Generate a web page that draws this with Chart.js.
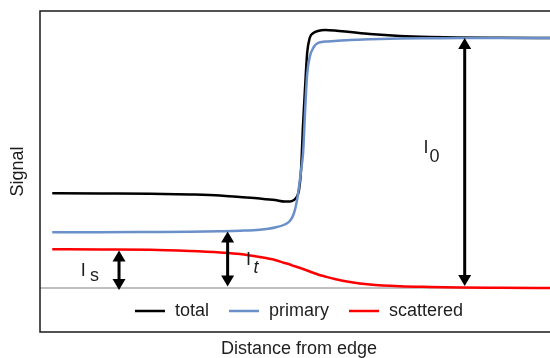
<!DOCTYPE html>
<html>
<head>
<meta charset="utf-8">
<script src="https://cdn.jsdelivr.net/npm/chart.js@4.4.1/dist/chart.umd.min.js"></script>
<style>
  html, body { margin: 0; padding: 0; background: #fff; overflow: hidden; }
</style>
</head>
<body>
<!-- canvas is a little wider than the page so the box's right edge falls outside -->
<canvas id="chart" width="558" height="358"></canvas>
<script>
const FONT = '"Liberation Sans", Arial, sans-serif';

// distance along the profile (arbitrary units)
const distance = [2.4, 11.8, 21.6, 29.4, 35.3, 39.2, 43.1, 46.1, 48.0, 49.0, 49.8, 50.4, 50.8, 51.2, 51.6,
                  52.0, 52.4, 52.9, 53.7, 54.5, 55.9, 57.8, 60.8, 64.7, 70.6, 76.5, 82.4, 90.2, 101.6];

const totalSignal = [37.9, 37.8, 37.7, 37.4, 37.0, 36.4, 35.8, 35.2, 34.6, 34.6, 35.2, 36.6, 39.2, 47.2, 65.6,
                     80.5, 94.0, 100.0, 102.1, 102.8, 103.2, 103.0, 102.4, 101.6, 100.8, 100.4, 100.2, 100.1, 100];

const primarySignal = [22.3, 22.3, 22.4, 22.5, 22.7, 22.9, 23.3, 24.2, 25.4, 26.8, 29.8, 35.0, 40.5, 47.0, 54.0,
                       71.0, 85.5, 92.4, 96.4, 98.0, 98.6, 98.8, 99.2, 99.5, 99.8, 99.9, 100, 100, 100];

const scatteredSignal = [15.5, 15.4, 15.3, 14.8, 14.2, 13.6, 12.4, 11.2, 10.0, 9.4, 8.8, 8.4, 8.2, 7.9, 7.6,
                         7.3, 7.0, 6.6, 6.0, 5.4, 4.6, 3.6, 2.4, 1.4, 0.7, 0.4, 0.2, 0.1, 0];

const seriesLabels = ["total", "primary", "scattered"];
const seriesColors = ["#000000", "#6b8fc8", "#ff0000"];

// double arrows marking I_s, I_t and I_0 (x, from, to in data units)
const arrows = [
    { at: 15.5, from: 15.0, to: -0.8, sub: "s", italic: false, lx: 8.0,  ly: 5.0,  sx: 9.8,  sy: 3.0 },
    { at: 36.8, from: 22.6, to: 0.6,  sub: "t", italic: true,  lx: 40.4, ly: 9.2,  sx: 41.9, sy: 6.0 },
    { at: 83.3, from: 100,  to: 0.8,  sub: "0", italic: false, lx: 75.2, ly: 54.0, sx: 76.4, sy: 50.4 }
];

const toPoints = ys => distance.map((x, i) => ({ x: x, y: ys[i] }));

// box round the plot area
const framePlugin = {
    id: "frame",
    afterDraw(chart) {
        const { ctx, chartArea: a } = chart;
        ctx.save();
        ctx.strokeStyle = "#1a1a1a";
        ctx.lineWidth = 1.5;
        ctx.strokeRect(a.left, a.top, a.right - a.left, a.bottom - a.top);
        ctx.restore();
    }
};

const arrowPlugin = {
    id: "arrows",
    afterDatasetsDraw(chart) {
        const { ctx, scales: { x, y } } = chart;
        ctx.save();
        ctx.fillStyle = "#000";
        ctx.strokeStyle = "#000";
        arrows.forEach(a => {
            const px = x.getPixelForValue(a.at);
            const top = y.getPixelForValue(a.from);
            const bot = y.getPixelForValue(a.to);
            ctx.lineWidth = 3;
            ctx.beginPath();
            ctx.moveTo(px, top + 8);
            ctx.lineTo(px, bot - 8);
            ctx.stroke();
            ctx.beginPath();
            ctx.moveTo(px, top);
            ctx.lineTo(px - 6.5, top + 11);
            ctx.lineTo(px + 6.5, top + 11);
            ctx.closePath();
            ctx.fill();
            ctx.beginPath();
            ctx.moveTo(px, bot);
            ctx.lineTo(px - 6.5, bot - 11);
            ctx.lineTo(px + 6.5, bot - 11);
            ctx.closePath();
            ctx.fill();

            ctx.fillStyle = "#1e1e1e";
            ctx.textAlign = "left";
            ctx.textBaseline = "alphabetic";
            ctx.font = "18px " + FONT;
            ctx.fillText("I", x.getPixelForValue(a.lx), y.getPixelForValue(a.ly));
            ctx.font = (a.italic ? "italic " : "") + "18px " + FONT;
            ctx.fillText(a.sub, x.getPixelForValue(a.sx), y.getPixelForValue(a.sy));
            ctx.fillStyle = "#000";
        });
        ctx.restore();
    }
};

// legend row drawn inside the bottom of the plot box
const legendPlugin = {
    id: "innerLegend",
    afterDraw(chart) {
        const { ctx, chartArea: a } = chart;
        const items = chart.data.datasets.filter(d => seriesLabels.includes(d.label))
            .sort((p, q) => seriesLabels.indexOf(p.label) - seriesLabels.indexOf(q.label));
        ctx.save();
        ctx.font = "18px " + FONT;
        const sample = 30, gap = 10, spacing = 20;
        let width = 0;
        items.forEach((d, i) => {
            width += sample + gap + ctx.measureText(d.label).width + (i < items.length - 1 ? spacing : 0);
        });
        let cx = (a.left + a.right) / 2 - width / 2;
        const cy = a.bottom - 21;
        items.forEach(d => {
            ctx.strokeStyle = d.borderColor;
            ctx.lineWidth = 2.5;
            ctx.beginPath();
            ctx.moveTo(cx, cy);
            ctx.lineTo(cx + sample, cy);
            ctx.stroke();
            cx += sample + gap;
            ctx.fillStyle = "#1e1e1e";
            ctx.textBaseline = "middle";
            ctx.fillText(d.label, cx, cy);
            cx += ctx.measureText(d.label).width + spacing;
        });
        ctx.restore();
    }
};

const lineStyle = {
    pointRadius: 0,
    borderWidth: 2.5,
    cubicInterpolationMode: "monotone",
    fill: false
};

new Chart(document.getElementById("chart"), {
    type: "line",
    data: {
        datasets: [
            { ...lineStyle, label: seriesLabels[2], data: toPoints(scatteredSignal), borderColor: seriesColors[2], order: 1 },
            { ...lineStyle, label: seriesLabels[1], data: toPoints(primarySignal), borderColor: seriesColors[1], order: 2 },
            { ...lineStyle, label: seriesLabels[0], data: toPoints(totalSignal), borderColor: seriesColors[0], order: 3 },
            { label: "", data: [{ x: 0, y: 0 }, { x: 101.6, y: 0 }], borderColor: "#ababab",
              borderWidth: 1.5, pointRadius: 0, order: 4 }
        ]
    },
    options: {
        responsive: false,
        animation: false,
        layout: { padding: { top: 11, right: 0, left: 0, bottom: 0 } },
        plugins: {
            legend: { display: false },
            tooltip: { enabled: false }
        },
        scales: {
            x: {
                type: "linear",
                min: 0,
                max: 101.6,
                ticks: { display: false },
                grid: { display: false },
                border: { display: false },
                title: {
                    display: true,
                    text: "Distance from edge",
                    color: "#1e1e1e",
                    font: { family: FONT, size: 18, lineHeight: 1 },
                    padding: 0
                },
                afterFit(scale) { scale.height = 26; }
            },
            y: {
                min: -17.6,
                max: 110.8,
                ticks: { display: false },
                grid: { display: false },
                border: { display: false },
                title: {
                    display: true,
                    text: "Signal",
                    color: "#1e1e1e",
                    font: { family: FONT, size: 18 },
                    padding: { top: 7.5, bottom: 0 }
                },
                afterFit(scale) { scale.width = 40; }
            }
        }
    },
    plugins: [framePlugin, arrowPlugin, legendPlugin]
});
</script>
</body>
</html>
